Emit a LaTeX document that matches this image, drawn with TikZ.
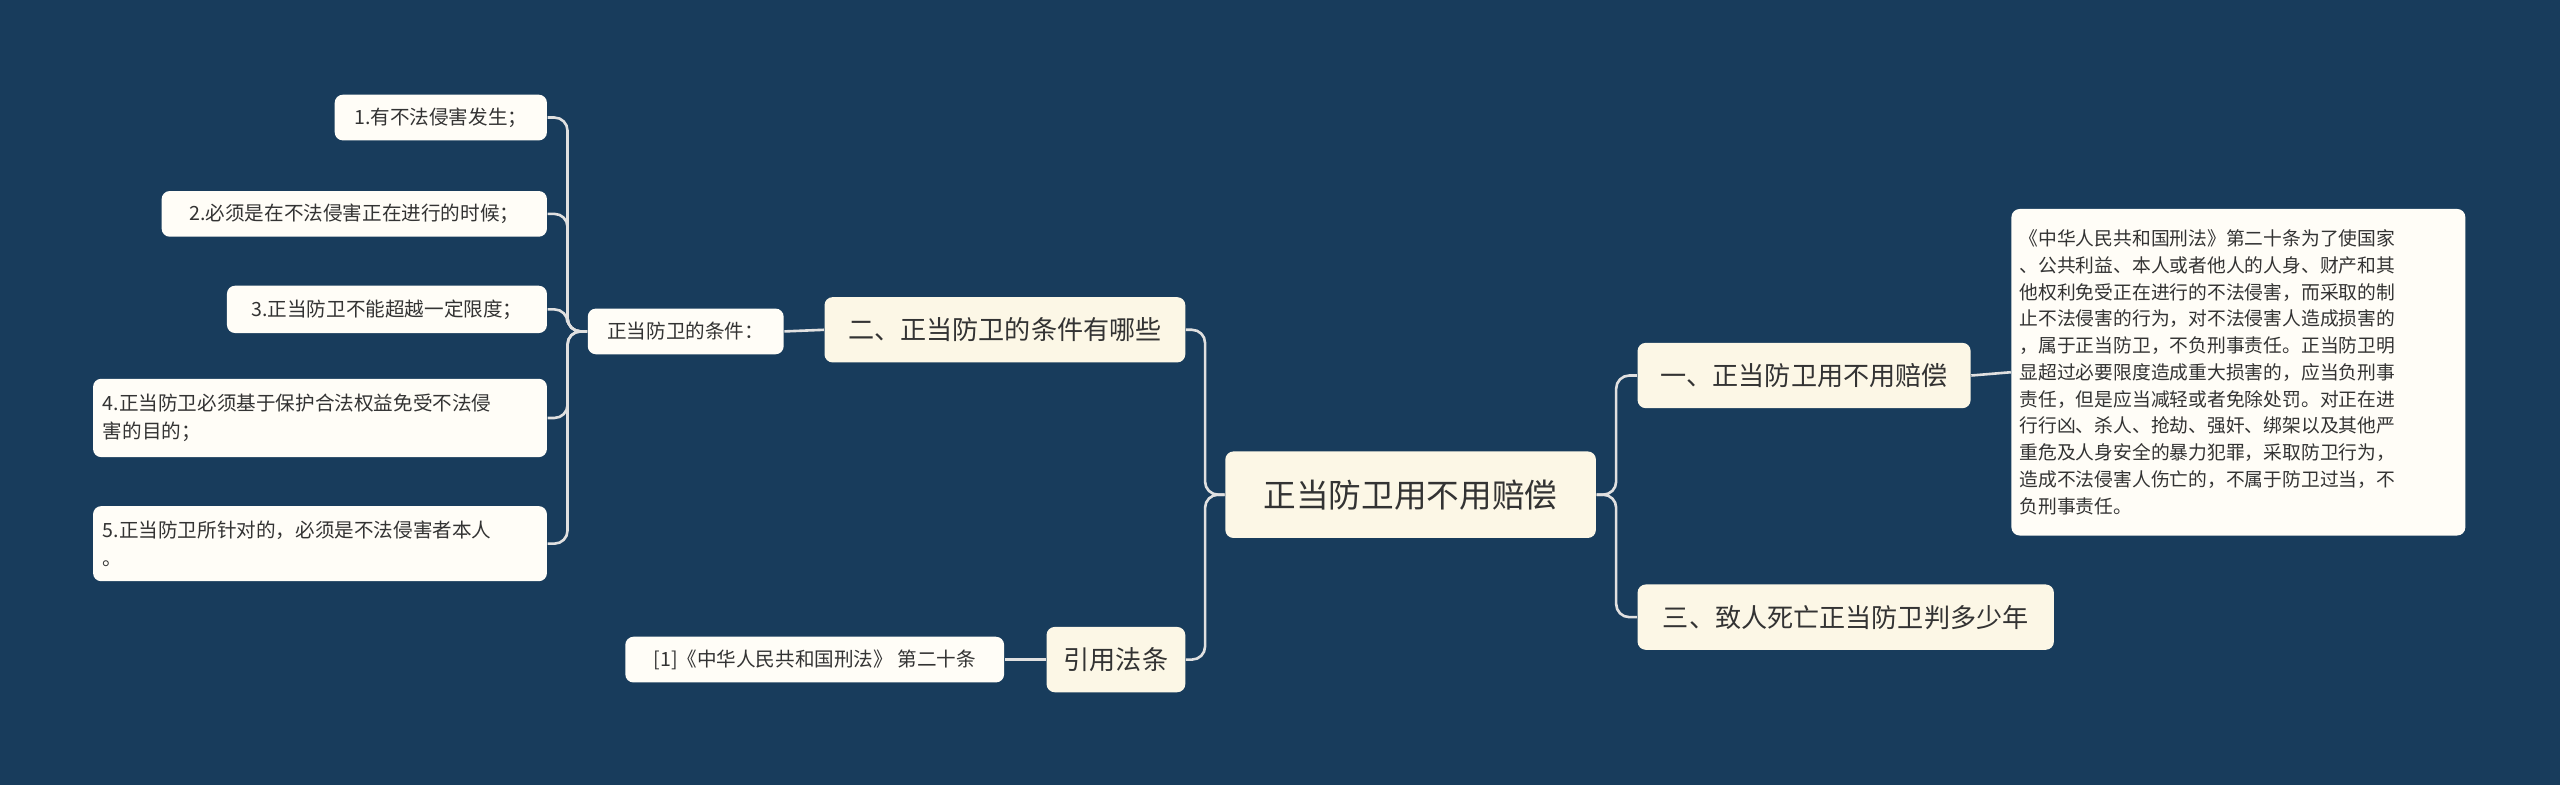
\documentclass[tikz,border=0pt]{standalone}
\usepackage{fontspec}
\setmainfont{Noto Sans CJK SC}
\begin{document}
\begin{tikzpicture}[x=0.5pt,y=-0.5pt,
  every node/.style={text=black!80, inner sep=0pt},
  box/.style={fill=#1, rounded corners=2.5pt, anchor=center},
  box/.default={white},
  ln/.style={draw=white!88!black, line width=0.8pt, rounded corners=4pt}]
\fill[fill={rgb,255:red,24;green,60;blue,92}] (0,0) rectangle (1568,481);
\useasboundingbox (0,0) rectangle (1568,481);
\definecolor{mainbox}{RGB}{252,247,230}
\definecolor{leafbox}{RGB}{255,253,247}
\node[box=mainbox, minimum width=113.5pt, minimum height=26.5pt, font=\fontsize{10}{12}\selectfont] (root) at (864,303) {正当防卫用不用赔偿};
\node[box=mainbox, minimum width=110.5pt, minimum height=20pt, font=\fontsize{8}{10}\selectfont] (A) at (615.5,202) {二、正当防卫的条件有哪些};
\node[box=mainbox, minimum width=42.5pt, minimum height=20pt, font=\fontsize{8}{10}\selectfont] (B) at (683.5,404) {引用法条};
\node[box=mainbox, minimum width=102pt, minimum height=20pt, font=\fontsize{8}{10}\selectfont] (C) at (1105,230) {一、正当防卫用不用赔偿};
\node[box=mainbox, minimum width=127.5pt, minimum height=20pt, font=\fontsize{8}{10}\selectfont] (D) at (1130.5,378) {三、致人死亡正当防卫判多少年};
\node[box=leafbox, minimum width=60pt, minimum height=14pt, font=\fontsize{6}{8}\selectfont] (E) at (420,203) {正当防卫的条件：};
\node[box=leafbox, minimum width=65pt, minimum height=14pt, font=\fontsize{6}{8}\selectfont] (L1) at (270,72) {1.有不法侵害发生；};
\node[box=leafbox, minimum width=118pt, minimum height=14pt, font=\fontsize{6}{8}\selectfont] (L2) at (217,131) {2.必须是在不法侵害正在进行的时候；};
\node[box=leafbox, minimum width=98pt, minimum height=14.5pt, font=\fontsize{6}{8}\selectfont] (L3) at (237,189.5) {3.正当防卫不能超越一定限度；};
\node[box=leafbox, minimum width=139pt, minimum height=24pt, align=left, text width=133pt, inner xsep=3pt, font=\fontsize{6}{8.5}\selectfont] (L4) at (196,256) {4.正当防卫必须基于保护合法权益免受不法侵\\害的目的；};
\node[box=leafbox, minimum width=139pt, minimum height=23pt, align=left, text width=133pt, inner xsep=3pt, font=\fontsize{6}{8.5}\selectfont] (L5) at (196,333) {5.正当防卫所针对的，必须是不法侵害者本人\\。};
\node[box=leafbox, minimum width=116pt, minimum height=14pt, font=\fontsize{6}{8}\selectfont] (F) at (499,404) {[1]《中华人民共和国刑法》 第二十条};
\node[box=leafbox, minimum width=139pt, minimum height=100pt, align=left, text width=134pt, font=\fontsize{5.75}{8.2}\selectfont] (G) at (1371,228) {《中华人民共和国刑法》第二十条为了使国家\\、公共利益、本人或者他人的人身、财产和其\\他权利免受正在进行的不法侵害，而采取的制\\止不法侵害的行为，对不法侵害人造成损害的\\，属于正当防卫，不负刑事责任。正当防卫明\\显超过必要限度造成重大损害的，应当负刑事\\责任，但是应当减轻或者免除处罚。对正在进\\行行凶、杀人、抢劫、强奸、绑架以及其他严\\重危及人身安全的暴力犯罪，采取防卫行为，\\造成不法侵害人伤亡的，不属于防卫过当，不\\负刑事责任。};
\draw[ln] (root.east) -- ++(12,0) |- (C.west);
\draw[ln] (root.east) -- ++(12,0) |- (D.west);
\draw[ln] (root.west) -- ++(-12,0) |- (A.east);
\draw[ln] (root.west) -- ++(-12,0) |- (B.east);
\draw[ln] (A.west) -- (E.east);
\draw[ln] (B.west) -- (F.east);
\draw[ln] (C.east) -- (G.west);
\foreach \n in {L1,L2,L3,L4,L5}
  \draw[ln] (E.west) -- ++(-12,0) |- (\n.east);
\end{tikzpicture}
\end{document}
